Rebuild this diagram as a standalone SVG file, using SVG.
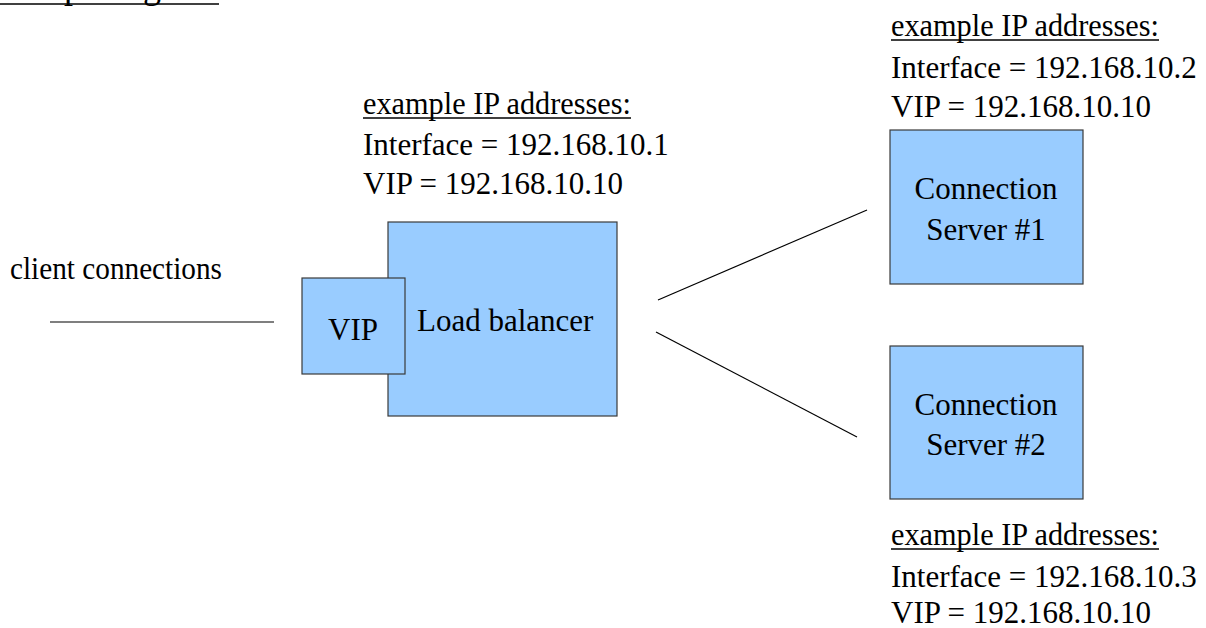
<svg xmlns="http://www.w3.org/2000/svg" width="1206" height="628" viewBox="0 0 1206 628">
  <style>
    text { font-family: "Liberation Serif", "Times New Roman", serif; font-size: 31px; fill: #000; }
    .box { fill: #99ccff; stroke: #3a3a3a; stroke-width: 1.2; }
    .wire { stroke: #000; stroke-width: 1.2; fill: none; }
    .ul { stroke: #000; stroke-width: 1.6; }
    .mid { text-anchor: middle; }
  </style>
  <rect width="1206" height="628" fill="#fff"/>

  <!-- page title, clipped at the top edge -->
  <g id="title">
    <text x="0" y="-2" style="font-size:36px">Setup Diagram</text>
    <line class="ul" x1="0" y1="4" x2="219" y2="4"/>
  </g>

  <!-- connectors -->
  <g id="connectors">
    <line class="wire" x1="50" y1="322" x2="274" y2="322"/>
    <line class="wire" x1="658" y1="300" x2="867" y2="210"/>
    <line class="wire" x1="656" y1="332" x2="857" y2="437"/>
  </g>

  <g id="client">
    <text x="10" y="279" textLength="212" lengthAdjust="spacingAndGlyphs">client connections</text>
  </g>

  <g id="load-balancer">
    <rect class="box" x="388" y="222" width="229" height="194"/>
    <text x="417" y="331">Load balancer</text>
  </g>

  <g id="vip">
    <rect class="box" x="302" y="278" width="103" height="96"/>
    <text class="mid" x="353" y="340">VIP</text>
  </g>

  <g id="lb-addresses">
    <text x="363" y="114" textLength="268" lengthAdjust="spacingAndGlyphs">example IP addresses:</text>
    <line class="ul" x1="363" y1="118" x2="631" y2="118"/>
    <text x="363" y="155">Interface = 192.168.10.1</text>
    <text x="363" y="194">VIP = 192.168.10.10</text>
  </g>

  <g id="server-1">
    <rect class="box" x="890" y="130" width="193" height="154"/>
    <text class="mid" x="986" y="199">Connection</text>
    <text class="mid" x="986" y="240">Server #1</text>
  </g>

  <g id="server-1-addresses">
    <text x="891" y="36" textLength="268" lengthAdjust="spacingAndGlyphs">example IP addresses:</text>
    <line class="ul" x1="891" y1="40" x2="1159" y2="40"/>
    <text x="891" y="78">Interface = 192.168.10.2</text>
    <text x="891" y="117">VIP = 192.168.10.10</text>
  </g>

  <g id="server-2">
    <rect class="box" x="890" y="346" width="193" height="153"/>
    <text class="mid" x="986" y="415">Connection</text>
    <text class="mid" x="986" y="455">Server #2</text>
  </g>

  <g id="server-2-addresses">
    <text x="891" y="545" textLength="268" lengthAdjust="spacingAndGlyphs">example IP addresses:</text>
    <line class="ul" x1="891" y1="549" x2="1159" y2="549"/>
    <text x="891" y="587">Interface = 192.168.10.3</text>
    <text x="891" y="623">VIP = 192.168.10.10</text>
  </g>
</svg>
